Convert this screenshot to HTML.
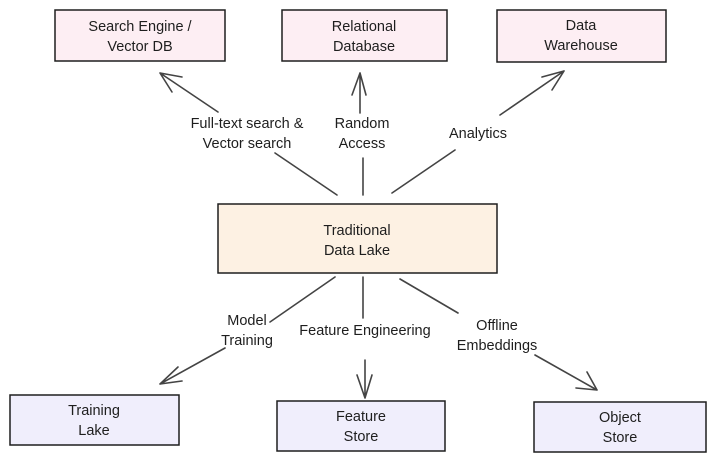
<!DOCTYPE html>
<html><head><style>
body{margin:0;background:#fff;width:713px;height:461px;overflow:hidden}
svg text{font-family:"Liberation Sans",sans-serif;font-size:14.5px;fill:#1e1e1e;text-anchor:middle}
</style></head><body>
<svg width="713" height="461" viewBox="0 0 713 461">
<g stroke="#1e1e1e" stroke-width="1.5">
<rect x="55" y="10" width="170" height="51" fill="#fdeef3"/>
<rect x="282" y="10" width="165" height="51" fill="#fdeef3"/>
<rect x="497" y="10" width="169" height="52" fill="#fdeef3"/>
<rect x="218" y="204" width="279" height="69" fill="#fdf1e3"/>
<rect x="10" y="395" width="169" height="50" fill="#f0eefc"/>
<rect x="277" y="401" width="168" height="50" fill="#f0eefc"/>
<rect x="534" y="402" width="172" height="50" fill="#f0eefc"/>
</g>
<g stroke="#444" stroke-width="1.6" fill="none" stroke-linecap="round">
<path d="M218 112 L160 73 M160 73 L182 77 M160 73 L172 92"/>
<path d="M275 153 L337 195"/>
<path d="M360 113 L360 73 M360 73 L352 95 M360 73 L366 95"/>
<path d="M363 158 L363 195"/>
<path d="M392 193 L455 150 M500 115 L564 71 M564 71 L542 77 M564 71 L552 90"/>
<path d="M335 277 L270 322 M225 348 L160 384 M160 384 L178 367 M160 384 L182 381"/>
<path d="M363 277 L363 318 M365 360 L365 398 M365 398 L357 375 M365 398 L372 375"/>
<path d="M400 279 L458 313 M535 355 L597 390 M597 390 L576 388 M597 390 L587 372"/>
</g>
<text x="140" y="31">Search Engine /</text><text x="140" y="51">Vector DB</text>
<text x="364" y="31">Relational</text><text x="364" y="51">Database</text>
<text x="581" y="30">Data</text><text x="581" y="50">Warehouse</text>
<text x="357" y="235">Traditional</text><text x="357" y="255">Data Lake</text>
<text x="94" y="415">Training</text><text x="94" y="435">Lake</text>
<text x="361" y="421">Feature</text><text x="361" y="441">Store</text>
<text x="620" y="422">Object</text><text x="620" y="442">Store</text>
<text x="247" y="128">Full-text search &amp;</text><text x="247" y="148">Vector search</text>
<text x="362" y="128">Random</text><text x="362" y="148">Access</text>
<text x="478" y="138">Analytics</text>
<text x="247" y="325">Model</text><text x="247" y="345">Training</text>
<text x="365" y="335">Feature Engineering</text>
<text x="497" y="330">Offline</text><text x="497" y="350">Embeddings</text>
</svg>
</body></html>
